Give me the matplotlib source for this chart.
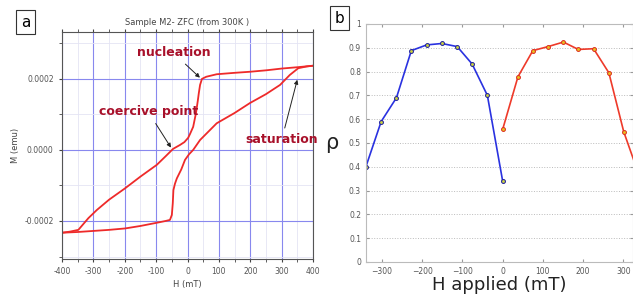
import matplotlib
matplotlib.use("Agg")
import matplotlib.pyplot as plt
from matplotlib.ticker import MultipleLocator

# --- panel a: hysteresis loop (ZFC from 300K) ---
h_down = [400, 353, 300, 250, 199, 150, 93, 60, 46, 40, 36, 33, 27, 18, 8, 2, -10, -24,
          -46, -70, -98, -150, -199, -250, -289, -316, -348, -375, -400]
m_down = [0.000237, 0.000233, 0.000229, 0.000224, 0.000220, 0.000217, 0.000213, 0.000206,
          0.000200, 0.000183, 0.000160, 0.000140, 0.000104, 0.000065, 0.000045, 0.000034,
          0.000022, 0.000014, 0.000003, -0.000018, -0.000042, -0.000075, -0.000108,
          -0.000140, -0.000169, -0.000192, -0.000225, -0.000230, -0.000233]
h_up = [-400, -350, -300, -250, -199, -150, -98, -70, -56, -50, -47, -45, -40, -34, -20,
        -8, 5, 18, 40, 93, 150, 199, 250, 295, 326, 353, 380, 400]
m_up = [-0.000233, -0.000231, -0.000228, -0.000225, -0.000221, -0.000214, -0.000205,
        -0.000200, -0.000197, -0.000183, -0.000150, -0.000113, -0.000095, -0.000080,
        -0.000055, -0.000028, -0.000012, 0.000000, 0.000028, 0.000075, 0.000104, 0.000132,
        0.000157, 0.000183, 0.000211, 0.000230, 0.000235, 0.000237]

# --- panel b: rho vs applied field ---
h_blue = [-340, -302, -264, -227, -189, -151, -113, -76, -38, 0]
rho_blue = [0.40, 0.59, 0.69, 0.888, 0.912, 0.918, 0.905, 0.832, 0.70, 0.34]
h_red = [0, 38, 75, 113, 151, 188, 226, 264, 301, 340]
rho_red = [0.557, 0.778, 0.888, 0.905, 0.924, 0.893, 0.896, 0.795, 0.547, 0.36]

fig = plt.figure(figsize=(6.33, 2.96), dpi=100)
fig.patch.set_facecolor("white")

# ---------------- panel a ----------------
ax = fig.add_axes([0.098, 0.125, 0.3965, 0.767])
ax.set_xlim(-400, 400)
ax.set_ylim(-0.000307, 0.000332)
ax.xaxis.set_major_locator(MultipleLocator(100))
ax.xaxis.set_minor_locator(MultipleLocator(50))
ax.yaxis.set_major_locator(MultipleLocator(0.0002))
ax.yaxis.set_minor_locator(MultipleLocator(0.0001))
ax.grid(which="major", color="#8888ee", lw=0.8)
ax.grid(which="minor", color="#e4e4f4", lw=0.6)
ax.set_axisbelow(True)
ax.tick_params(which="both", colors="#444444", labelsize=5.5, labelcolor="#555555",
               direction="out", top=True, length=2.5)
ax.tick_params(axis="x", which="both", top=True, labeltop=False)
ax.tick_params(axis="x", which="major", top=True)
ax.set_xticklabels([])
ax.set_xticks(range(-400, 401, 100))
ax.set_xticklabels([str(v) for v in range(-400, 401, 100)])
ax.set_yticks([-0.0002, 0.0, 0.0002])
ax.set_yticklabels(["-0.0002", "0.0000", "0.0002"])
for s in ax.spines.values():
    s.set_color("#555555")
    s.set_linewidth(0.8)

ax.plot(h_down, m_down, color="#ee2a2a", lw=1.3)
ax.plot(h_up, m_up, color="#ee2a2a", lw=1.3)

ax.set_title("Sample M2- ZFC (from 300K )", fontsize=6, color="#444444", pad=5)
ax.set_xlabel("H (mT)", fontsize=6, color="#444444", labelpad=3)
ax.set_ylabel("M (emu)", fontsize=6, color="#444444", labelpad=3)

lab = dict(color="#a8102a", fontsize=9, fontweight="bold")
arr = dict(arrowstyle="-|>", color="#222222", lw=0.7, mutation_scale=6)
ax.annotate("nucleation", xy=(46, 0.000198), xytext=(-45, 0.000273),
            ha="center", va="center", arrowprops=arr, **lab)
ax.annotate("coercive point", xy=(-48, 0.0000), xytext=(-125, 0.000107),
            ha="center", va="center", arrowprops=arr, **lab)
ax.annotate("saturation", xy=(352, 0.000205), xytext=(300, 0.000028),
            ha="center", va="center", arrowprops=arr, **lab)

fig.text(0.04, 0.925, "a", fontsize=11, ha="center", va="center",
         bbox=dict(boxstyle="square,pad=0.3", fc="white", ec="#333333", lw=0.8))

# ---------------- panel b ----------------
bx = fig.add_axes([0.578, 0.115, 0.422, 0.804])
bx.set_xlim(-340, 324)
bx.set_ylim(0, 1)
bx.set_xticks(range(-300, 301, 100))
bx.set_yticks([i / 10 for i in range(11)])
bx.set_yticklabels(["0"] + ["%.1f" % (i / 10) for i in range(1, 10)] + ["1"])
bx.yaxis.grid(True, color="#bbbbbb", ls=":", lw=0.7)
bx.tick_params(colors="#999999", labelcolor="#555555", labelsize=5.5,
               direction="in", length=2.5, top=True, right=True)
for s in bx.spines.values():
    s.set_color("#bbbbbb")
    s.set_linewidth(0.8)

bx.plot(h_blue, rho_blue, color="#2a32e0", lw=1.2, marker="o", ms=2.8,
        mfc="#c8d040", mec="#1a1aa0", mew=0.7, clip_on=True)
bx.plot(h_red, rho_red, color="#ee3a2a", lw=1.2, marker="o", ms=2.8,
        mfc="#e8c020", mec="#dd2a20", mew=0.7, clip_on=True)

bx.set_xlabel("H applied (mT)", fontsize=13, color="#222222", labelpad=0)
bx.set_ylabel("ρ", fontsize=15, color="#222222", rotation=0, labelpad=12, va="center")

fig.text(0.537, 0.938, "b", fontsize=11, ha="center", va="center",
         bbox=dict(boxstyle="square,pad=0.3", fc="white", ec="#333333", lw=0.8))

fig.savefig("out.png", dpi=100, facecolor="white")
